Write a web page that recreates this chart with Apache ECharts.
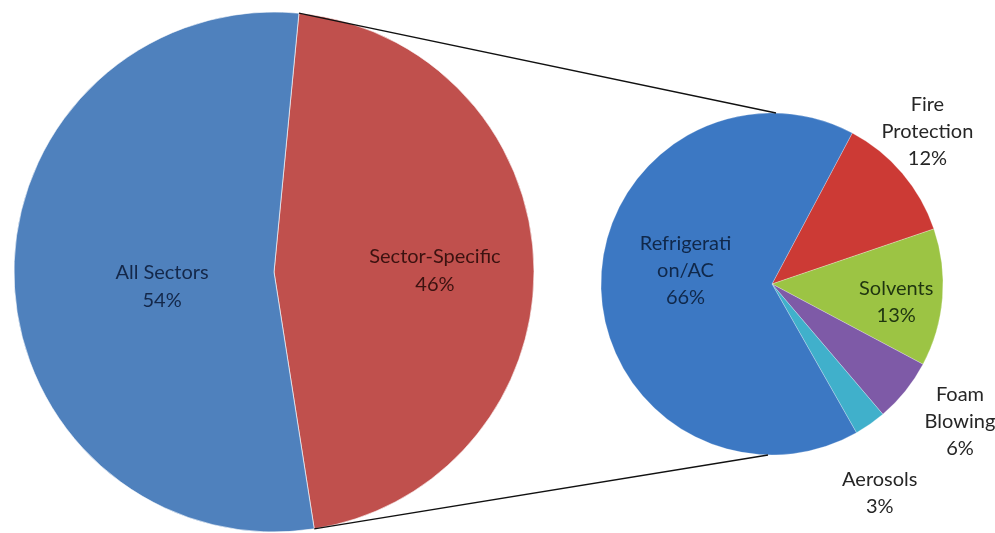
<!DOCTYPE html>
<html>
<head>
<meta charset="utf-8">
<script src="https://cdn.jsdelivr.net/npm/echarts@6/dist/echarts.min.js"></script>
<style>
  html, body { margin: 0; padding: 0; background: #fff; }
  #chart { width: 995px; height: 533px; }
</style>
</head>
<body>
<div id="chart"></div>
<script>
// main pie
var mainNames = ['Sector-Specific', 'All Sectors'];
var mainValues = [46, 54];
// secondary pie (breakdown of Sector-Specific)
var subNames = ['Fire\nProtection', 'Solvents', 'Foam\nBlowing', 'Aerosols', 'Refrigerati\non/AC'];
var subValues = [12, 13, 6, 3, 66];

// layout / style
var mainCenter = [274, 272], mainRadius = 260, mainStart = 84.5;
var subCenter = [772, 284], subRadius = 171, subStart = 62;
var mainColors = ['#c0504d', '#4f81bd'];
var mainText = ['#3b1210', '#14284a'];
var subColors = ['#cc3a35', '#9cc444', '#7e5aa7', '#40b0cb', '#3c78c3'];
var subText = ['#262626', '#1f3510', '#262626', '#262626', '#10284a'];
var mainShift = [[28, 2], [21, 11]];
var subShift = [[88, -95], [36, 11], [119, 82], [57, 137], [2, -15]];

var chart = echarts.init(document.getElementById('chart'));

function labelFmt(p) {
    return p.name + '\n' + p.value + '%';
}

// connector lines from the edges of the Sector-Specific slice to the small pie
var a0 = (90 - mainStart) * Math.PI / 180;
var a1 = a0 + mainValues[0] / 100 * 2 * Math.PI;
function edge(a) {
    return [mainCenter[0] + mainRadius * Math.sin(a), mainCenter[1] - mainRadius * Math.cos(a)];
}
var p0 = edge(a0), p1 = edge(a1);
var lineStyle = { stroke: '#111', lineWidth: 1.3 };

chart.setOption({
    animation: false,
    textStyle: { fontFamily: 'Lato, "Open Sans", sans-serif' },
    graphic: [
        { type: 'line', shape: { x1: p0[0], y1: p0[1], x2: subCenter[0] + 4, y2: subCenter[1] - subRadius }, style: lineStyle, z: 10 },
        { type: 'line', shape: { x1: p1[0], y1: p1[1], x2: subCenter[0] - 4, y2: subCenter[1] + subRadius }, style: lineStyle, z: 10 }
    ],
    series: [
        {
            type: 'pie',
            center: mainCenter,
            radius: mainRadius,
            startAngle: mainStart,
            silent: true,
            itemStyle: { borderColor: 'rgba(255,255,255,0.6)', borderWidth: 1 },
            label: {
                position: 'inside',
                formatter: labelFmt,
                fontSize: 20,
                lineHeight: 28
            },
            labelLayout: function (p) {
                return { dx: mainShift[p.dataIndex][0], dy: mainShift[p.dataIndex][1] };
            },
            data: mainNames.map(function (n, i) {
                return {
                    name: n, value: mainValues[i],
                    itemStyle: { color: mainColors[i] },
                    label: { color: mainText[i] }
                };
            })
        },
        {
            type: 'pie',
            center: subCenter,
            radius: subRadius,
            startAngle: subStart,
            silent: true,
            itemStyle: { borderColor: 'rgba(255,255,255,0.5)', borderWidth: 0.5 },
            label: {
                position: 'inside',
                formatter: labelFmt,
                fontSize: 20,
                lineHeight: 27
            },
            labelLayout: function (p) {
                return { dx: subShift[p.dataIndex][0], dy: subShift[p.dataIndex][1] };
            },
            data: subNames.map(function (n, i) {
                return {
                    name: n, value: subValues[i],
                    itemStyle: { color: subColors[i] },
                    label: { color: subText[i] }
                };
            })
        }
    ]
});
</script>
</body>
</html>
